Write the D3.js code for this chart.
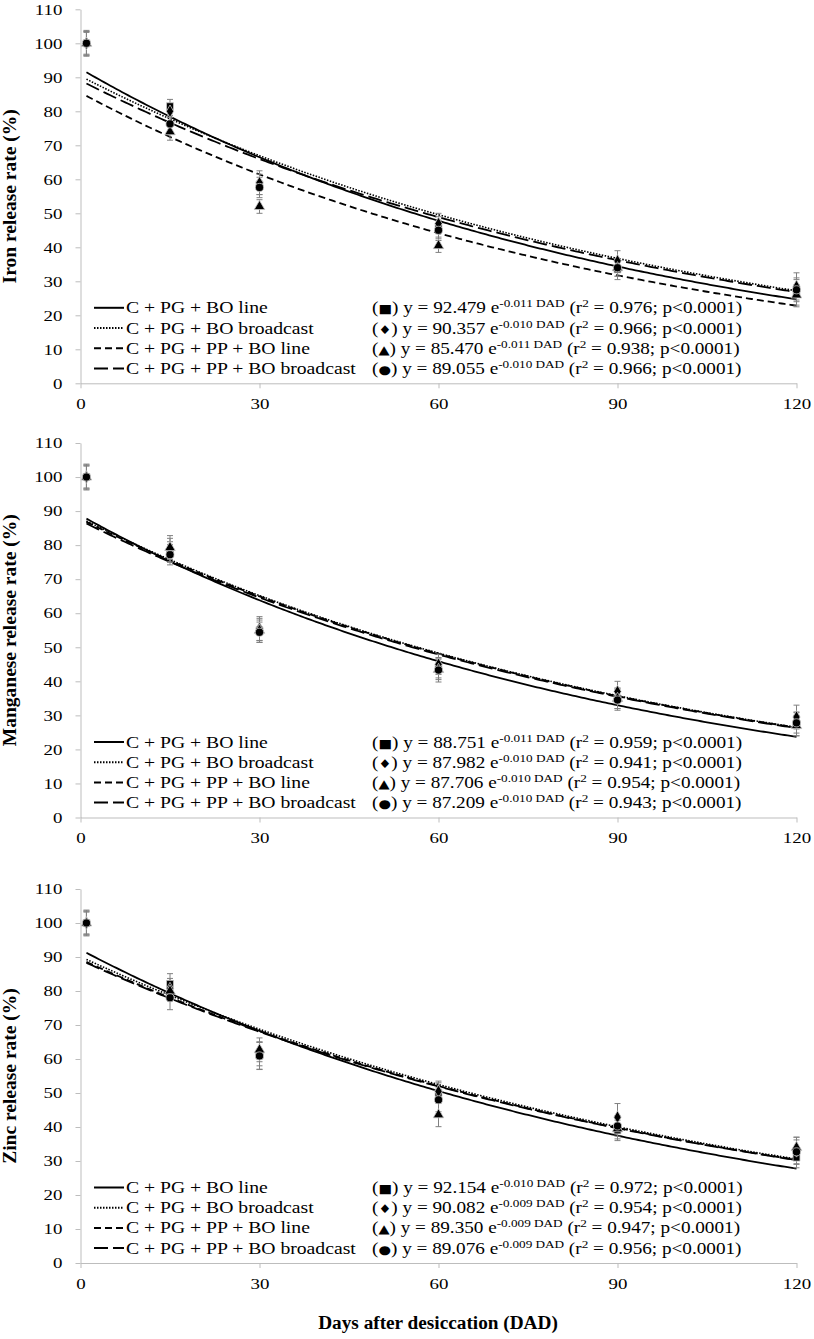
<!DOCTYPE html>
<html lang="en">
<head>
<meta charset="utf-8">
<title>Micronutrient release</title>
<script src="https://d3js.org/d3.v7.min.js" charset="utf-8"></script>
<style>
  body { margin: 0; background: #fff; }
  svg { display: block; font-family: "Liberation Serif", "Times New Roman", serif; }
</style>
</head>
<body>
<script>
// sampling days and axis ticks
var days = [1, 15, 30, 60, 90, 120];
var xTicks = [0, 30, 60, 90, 120];
var yTicks = [0, 10, 20, 30, 40, 50, 60, 70, 80, 90, 100, 110];

var treatments = ["C + PG + BO line", "C + PG + BO broadcast", "C + PG + PP + BO line", "C + PG + PP + BO broadcast"];
var markSymbols = ["\u25A0", "\u2666", "\u25B2", "\u25CF"];

// Iron
var ironValues = [
  [100, 81.5, 58.5, 46, 33.5, 26.5],
  [100, 80, 59, 47, 36, 28.5],
  [100, 74, 52, 40.5, 34, 26],
  [100, 76.3, 57.6, 45, 34, 27.5]
];
var ironErrors = [
  [3.5, 2, 3, 3, 3, 4],
  [3.8, 1.8, 3.5, 3, 3, 4],
  [3.2, 2.5, 2, 2, 2.5, 3],
  [3.5, 2.5, 3, 3, 2.5, 3.5]
];
var ironA = [92.479, 90.357, 85.470, 89.055];
var ironB = [-0.011, -0.010, -0.011, -0.010];
var ironR2 = [0.976, 0.966, 0.938, 0.966];

// Manganese
var mnValues = [
  [100, 78, 55, 44, 35, 27.5],
  [100, 78.5, 55.5, 45, 37, 29.5],
  [100, 79.3, 55, 43.5, 35, 27],
  [100, 77.2, 54.4, 43.3, 34.5, 27.8]
];
var mnErrors = [
  [3.5, 3, 3.5, 3, 3, 3.5],
  [3.8, 3.5, 3.5, 3, 3, 3.5],
  [3.2, 3.5, 3, 3, 3, 3],
  [3.5, 3, 3, 3.5, 3, 3]
];
var mnA = [88.751, 87.982, 87.706, 87.209];
var mnB = [-0.011, -0.010, -0.010, -0.010];
var mnR2 = [0.959, 0.941, 0.954, 0.943];

// Zinc
var znValues = [
  [100, 82.1, 61, 50, 39, 31],
  [100, 80.7, 61.5, 50.5, 42.9, 33],
  [100, 80, 62.7, 43.6, 39.5, 34],
  [100, 78, 60.9, 48, 40.3, 32.7]
];
var znErrors = [
  [3.5, 3, 4, 3, 3, 3],
  [3.8, 3, 3.5, 3, 4, 4],
  [3.2, 3, 3.5, 3.5, 3, 3],
  [3.5, 3.5, 4, 3.5, 3, 3.5]
];
var znA = [92.154, 90.082, 89.350, 89.076];
var znB = [-0.010, -0.009, -0.009, -0.009];
var znR2 = [0.972, 0.954, 0.947, 0.956];

var panels = [
  {label: "Iron release rate (%)", values: ironValues, errors: ironErrors, a: ironA, b: ironB, r2: ironR2, top: 9.3, bottom: 383.3},
  {label: "Manganese release rate (%)", values: mnValues, errors: mnErrors, a: mnA, b: mnB, r2: mnR2, top: 443, bottom: 817.5},
  {label: "Zinc release rate (%)", values: znValues, errors: znErrors, a: znA, b: znB, r2: znR2, top: 889, bottom: 1263}
];

var W = 814, H = 1339;
var dashes = [null, "1.5,1.5", "7,4", "14,5"];
var shapes = [d3.symbolSquare, d3.symbolDiamond, d3.symbolTriangle, d3.symbolCircle];
var shapeSizes = [48, 46, 48, 52];
var axisGrey = "#bdbdbd";
var sx = 1.23; // the figure's text is wider than plain Times

var svg = d3.select("body").append("svg").attr("width", W).attr("height", H);

var x = d3.scaleLinear().domain([0, 120]).range([80.5, 796.5]);

panels.forEach(function(p) {
  var y = d3.scaleLinear().domain([0, 110]).range([p.bottom, p.top]);
  var g = svg.append("g");

  // y axis
  var ya = g.append("g").attr("transform", "translate(" + x(0) + ",0)")
    .call(d3.axisLeft(y).tickValues(yTicks).tickSize(5).tickSizeOuter(0));
  ya.select(".domain").attr("stroke", axisGrey);
  ya.selectAll(".tick line").attr("stroke", axisGrey);
  ya.selectAll(".tick text").attr("x", 0).attr("dy", "0.34em")
    .attr("transform", "translate(-18,0) scale(1.35,1)")
    .attr("font-size", 14).attr("font-family", "Liberation Serif").attr("fill", "#000");

  // x axis
  var xa = g.append("g").attr("transform", "translate(0," + y(0) + ")")
    .call(d3.axisBottom(x).tickValues(xTicks).tickSize(5).tickSizeOuter(0));
  xa.select(".domain").attr("stroke", axisGrey);
  xa.selectAll(".tick line").attr("stroke", axisGrey);
  xa.selectAll(".tick text").attr("y", 0).attr("dy", "0.34em")
    .attr("transform", "translate(0,21) scale(1.35,1)")
    .attr("font-size", 14).attr("font-family", "Liberation Serif").attr("fill", "#000");

  // y title
  g.append("text")
    .attr("transform", "translate(16," + ((p.top + p.bottom) / 2) + ") rotate(-90)")
    .attr("text-anchor", "middle")
    .attr("font-weight", "bold").attr("font-size", 19.5)
    .text(p.label);

  // fitted curves
  var curveDays = d3.range(1, 120.01, 0.5);
  var line = d3.line().x(function(d) { return x(d[0]); }).y(function(d) { return y(d[1]); });
  p.a.forEach(function(a, i) {
    var pts = curveDays.map(function(t) { return [t, a * Math.exp(p.b[i] * t)]; });
    g.append("path").datum(pts).attr("d", line)
      .attr("fill", "none").attr("stroke", "#000")
      .attr("stroke-width", i == 1 ? 1.6 : 1.8)
      .attr("stroke-dasharray", dashes[i]);
  });

  // error bars
  p.values.forEach(function(vals, i) {
    var eb = g.append("g").attr("stroke", "#808080").attr("stroke-width", 1);
    vals.forEach(function(v, j) {
      var e = p.errors[i][j], cx = x(days[j]);
      eb.append("line").attr("x1", cx).attr("x2", cx).attr("y1", y(v - e)).attr("y2", y(v + e));
      eb.append("line").attr("x1", cx - 3).attr("x2", cx + 3).attr("y1", y(v - e)).attr("y2", y(v - e));
      eb.append("line").attr("x1", cx - 3).attr("x2", cx + 3).attr("y1", y(v + e)).attr("y2", y(v + e));
    });
  });

  // markers
  p.values.forEach(function(vals, i) {
    g.append("g").selectAll("path").data(vals).join("path")
      .attr("transform", function(v, j) { return "translate(" + x(days[j]) + "," + y(v) + ")"; })
      .attr("d", d3.symbol().type(shapes[i]).size(shapeSizes[i]))
      .attr("fill", "#000").attr("stroke", "#c8c8c8").attr("stroke-width", 0.8);
  });

  // legend + equations
  treatments.forEach(function(name, i) {
    var cy = p.bottom - 75.5 + i * 20.2;
    g.append("line").attr("x1", 94).attr("x2", 124).attr("y1", cy).attr("y2", cy)
      .attr("stroke", "#000").attr("stroke-width", 2).attr("stroke-dasharray", dashes[i]);
    g.append("text")
      .attr("transform", "translate(126," + (cy + 5.5) + ") scale(" + sx + ",1)")
      .attr("font-size", 16).text(name);

    var eq = g.append("text")
      .attr("transform", "translate(372," + (cy + 5.5) + ") scale(1.2,1)")
      .attr("font-size", 16);
    eq.append("tspan").text("(");
    eq.append("tspan").attr("font-size", 12).attr("font-family", "DejaVu Sans").text(markSymbols[i]);
    eq.append("tspan").text(") y = " + p.a[i].toFixed(3) + " e");
    eq.append("tspan").attr("font-size", 11).attr("dy", -6).text(p.b[i].toFixed(3) + " DAD");
    eq.append("tspan").attr("dy", 6).text(" (r");
    eq.append("tspan").attr("font-size", 11).attr("dy", -6).text("2");
    eq.append("tspan").attr("dy", 6).text(" = " + p.r2[i].toFixed(3) + "; p<0.0001)");
  });
});

// x title
svg.append("text")
  .attr("transform", "translate(438,1329) scale(1.07,1)")
  .attr("text-anchor", "middle")
  .attr("font-weight", "bold").attr("font-size", 18)
  .text("Days after desiccation (DAD)");
</script>
</body>
</html>
